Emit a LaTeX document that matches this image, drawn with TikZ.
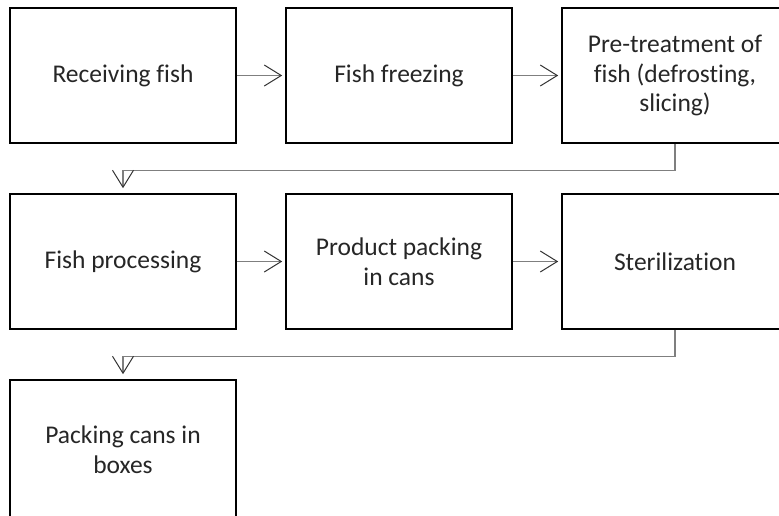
\documentclass[tikz,border=0pt]{standalone}
\usepackage{fontspec}
\setmainfont[Ligatures={NoCommon}]{Carlito}
\usetikzlibrary{arrows.meta}
\definecolor{conn}{HTML}{7F7F7F}
\definecolor{txt}{HTML}{262626}
\begin{document}
\begin{tikzpicture}[x=1pt,y=-1pt,
  stepbox/.style={draw=black,line width=1.6pt,minimum width=226pt,minimum height=135pt,
    align=center,inner sep=0pt,text=txt,font=\fontsize{25.5}{29.5}\selectfont},
  flow/.style={draw=conn,line width=1.3pt,shorten >=3pt,
    -{Straight Barb[length=17pt,width=21pt,line width=1pt,color=black!80]}}]
\useasboundingbox (0,0) rectangle (779,515);
\clip (0,0) rectangle (779,515);
\node[stepbox] (b1) at (123,75.5) {Receiving fish};
\node[stepbox] (b2) at (399,75.5) {Fish freezing};
\node[stepbox] (b3) at (675,75.5) {Pre-treatment of\\fish (defrosting,\\slicing)};
\node[stepbox] (b4) at (123,261.5) {Fish processing};
\node[stepbox] (b5) at (399,261.5) {Product packing\\in cans};
\node[stepbox] (b6) at (675,261.5) {Sterilization};
\node[stepbox,minimum height=139pt] (b7) at (123,449.5) {Packing cans in\\boxes};
\draw[flow] (b1) -- (b2);
\draw[flow] (b2) -- (b3);
\draw[flow,shorten >=5pt] (b3.south) -- ++(0,27) -| (b4.north);
\draw[flow] (b4) -- (b5);
\draw[flow] (b5) -- (b6);
\draw[flow,shorten >=5pt] (b6.south) -- ++(0,27) -| (b7.north);
\end{tikzpicture}
\end{document}
